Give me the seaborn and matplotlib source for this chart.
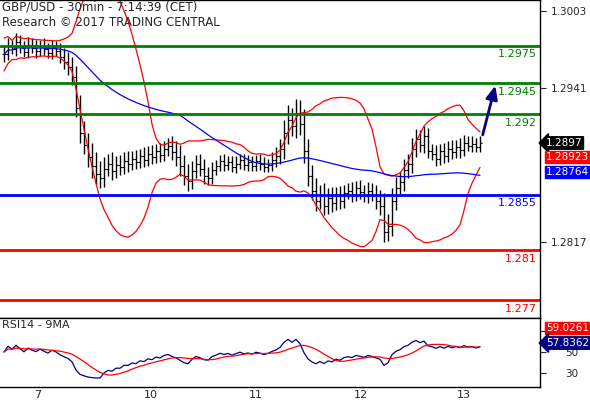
import numpy as np
import pandas as pd
import matplotlib
matplotlib.use("Agg")
import matplotlib.pyplot as plt
import seaborn as sns

# ── data ──────────────────────────────────────────────────────────────
closes = [1.2968, 1.2975, 1.2972, 1.2978, 1.2974, 1.2970, 1.2976, 1.2973, 1.2971, 1.2975,
          1.2972, 1.2969, 1.2974, 1.2971, 1.2966, 1.2962, 1.2958, 1.2950, 1.2925, 1.2905,
          1.2895, 1.2885, 1.2878, 1.2872, 1.2868, 1.2876, 1.2880, 1.2874, 1.2879, 1.2877,
          1.2882, 1.2880, 1.2884, 1.2881, 1.2886, 1.2883, 1.2888, 1.2885, 1.2890, 1.2887,
          1.2892, 1.2894, 1.2889, 1.2885, 1.2878, 1.2870, 1.2866, 1.2874, 1.2880, 1.2876,
          1.2870, 1.2868, 1.2875, 1.2878, 1.2882, 1.2879, 1.2881, 1.2877, 1.2880, 1.2883,
          1.2879, 1.2881, 1.2878, 1.2882, 1.2880, 1.2877, 1.2879, 1.2883, 1.2886, 1.2892,
          1.2905, 1.2915, 1.2910, 1.2920, 1.2912, 1.2890, 1.2870, 1.2858, 1.2850, 1.2855,
          1.2846, 1.2852, 1.2848, 1.2854, 1.2850, 1.2856, 1.2858, 1.2855, 1.2860, 1.2857,
          1.2854, 1.2858, 1.2855, 1.2850, 1.2846, 1.2825, 1.2830, 1.2850, 1.2860, 1.2865,
          1.2875, 1.2880, 1.2892, 1.2900, 1.2895, 1.2902, 1.2890, 1.2888, 1.2884, 1.2890,
          1.2886, 1.2892, 1.2889, 1.2893, 1.2891, 1.2897, 1.2894, 1.2896, 1.2893, 1.2897]
# wick size in pips beyond open/close
wicks = [8, 6, 5, 7, 6, 5, 6, 5, 7, 5, 6, 5, 6, 5, 6, 7, 8, 8, 9, 10,
         9, 10, 12, 11, 10, 9, 8, 9, 7, 8, 7, 8, 6, 7, 6, 7, 6, 7, 6, 7,
         6, 7, 8, 9, 10, 9, 10, 8, 7, 8, 8, 7, 6, 5, 5, 6, 5, 5, 6, 5,
         5, 6, 5, 5, 6, 5, 5, 6, 7, 8, 10, 12, 10, 12, 11, 12, 10, 9, 10, 8,
         9, 8, 9, 7, 8, 7, 6, 7, 6, 7, 6, 7, 6, 8, 9, 10, 9, 10, 9, 8,
         9, 8, 9, 8, 7, 8, 7, 6, 7, 6, 7, 6, 7, 6, 8, 6, 5, 6, 5, 5]
levels_res = [1.2975, 1.2945, 1.292]
level_pivot = 1.2855
levels_sup = [1.281, 1.277]
price_ticks = [1.3003, 1.2941, 1.2817]
rsi_ticks = [70, 50, 30]
day_labels = ["7", "10", "11", "12", "13"]
day_pos = [7.5, 35.0, 61.3, 87.5, 113.3]

# ── indicators ────────────────────────────────────────────────────────
df = pd.DataFrame({"close": closes})
df["open"] = df["close"].shift(1).fillna(df["close"])
wk = np.array(wicks) * 0.0001
df["high"] = df[["open", "close"]].max(axis=1) + wk
df["low"] = df[["open", "close"]].min(axis=1) - wk * 0.8
mid = df["close"].rolling(20, min_periods=1).mean()
sd = df["close"].rolling(20, min_periods=1).std().fillna(0.0006)
df["bb_up"] = mid + 2.2 * sd
df["bb_lo"] = mid - 2.2 * sd
df["ma"] = df["close"].rolling(45, min_periods=1).mean()
delta = df["close"].diff().fillna(0)
up = delta.clip(lower=0).ewm(alpha=1 / 14, adjust=False).mean() + 0.0002
dn = (-delta).clip(lower=0).ewm(alpha=1 / 14, adjust=False).mean() + 0.0002
df["rsi"] = 100 - 100 / (1 + up / dn)
df["rsi_ma"] = df["rsi"].rolling(9, min_periods=1).mean()
df["i"] = np.arange(len(df))

sns.set_style("white")
plt.rcParams["font.family"] = ["DejaVu Sans"]
fig = plt.figure(figsize=(5.9, 4.0), dpi=100)
ax = fig.add_axes([0.0, 0.205, 540 / 590, 0.795])
ax2 = fig.add_axes([0.0, 0.0325, 540 / 590, 0.1725], sharex=ax)

# price bars
ax.vlines(df["i"], df["low"], df["high"], color="black", lw=1.0)
ax.hlines(df["open"], df["i"] - 0.45, df["i"], color="black", lw=0.8)
ax.hlines(df["close"], df["i"], df["i"] + 0.45, color="black", lw=0.8)
sns.lineplot(data=df, x="i", y="bb_up", ax=ax, color="red", lw=0.9)
sns.lineplot(data=df, x="i", y="bb_lo", ax=ax, color="red", lw=0.9)
sns.lineplot(data=df, x="i", y="ma", ax=ax, color="blue", lw=0.9)

xmin, xmax = -1, 134
for lv in levels_res:
    ax.axhline(lv, color="green", lw=2)
    ax.text(xmax - 0.7, lv - 0.0003, str(lv), color="green", ha="right", va="top", fontsize=8)
ax.axhline(level_pivot, color="blue", lw=2)
ax.text(xmax - 0.7, level_pivot - 0.0003, str(level_pivot), color="blue", ha="right", va="top", fontsize=8)
for lv in levels_sup:
    ax.axhline(lv, color="red", lw=2)
    ax.text(xmax - 0.7, lv - 0.0003, str(lv), color="red", ha="right", va="top", fontsize=8)

ax.annotate("", xy=(123, 1.2945), xytext=(119.5, 1.2901),
            arrowprops=dict(arrowstyle="-|>,head_length=0.8,head_width=0.35", color="navy", lw=2))

ax.set_xlim(xmin, xmax)
ax.set_ylim(1.27555, 1.30119)
ax.yaxis.tick_right()
ax.set_yticks(price_ticks)
ax.set_yticklabels([f"{t:.4f}" for t in price_ticks], fontsize=7.5)
ax.tick_params(axis="y", direction="out", length=4, pad=4)
ax.tick_params(axis="x", bottom=False, labelbottom=False)
ax.set_xlabel("")
ax.set_ylabel("")
ax.text(0.003, 0.998, "GBP/USD - 30min - 7:14:39 (CET)\nResearch © 2017 TRADING CENTRAL",
        transform=ax.transAxes, ha="left", va="top", fontsize=8.5, linespacing=1.25)

# RSI panel
sns.lineplot(data=df, x="i", y="rsi", ax=ax2, color="navy", lw=0.9)
sns.lineplot(data=df, x="i", y="rsi_ma", ax=ax2, color="red", lw=0.9)
ax2.set_ylim(16, 83)
ax2.yaxis.tick_right()
ax2.set_yticks(rsi_ticks)
ax2.set_yticklabels([str(t) for t in rsi_ticks], fontsize=7.5)
ax2.tick_params(axis="y", direction="out", length=4, pad=14)
ax2.set_xticks(day_pos)
ax2.set_xticklabels(day_labels, fontsize=8, ha="left")
ax2.tick_params(axis="x", direction="in", length=4, pad=2)
ax2.set_xlabel("")
ax2.set_ylabel("")
ax2.text(0.003, 0.97, "RSI14 - 9MA", transform=ax2.transAxes, ha="left", va="top", fontsize=8)

for a in (ax, ax2):
    for s in a.spines.values():
        s.set_color("black")
        s.set_linewidth(1)
    a.spines["left"].set_visible(False)

# value tags on right axis
def tag(y_fig, text, bg, arrow=False):
    fig.text(0.925, y_fig, text, color="white", fontsize=7.5, va="center", ha="left",
             bbox=dict(boxstyle="square,pad=0.12" if not arrow else "larrow,pad=0.12",
                       fc=bg, ec=bg))

tag(1 - 143 / 400, "1.2897", "black", arrow=True)
tag(1 - 157 / 400, "1.28923", "red")
tag(1 - 172 / 400, "1.28764", "blue")
tag(1 - 328 / 400, "59.0261", "red")
tag(1 - 343 / 400, "57.8362", "navy", arrow=True)

fig.savefig("out.png", dpi=100)
